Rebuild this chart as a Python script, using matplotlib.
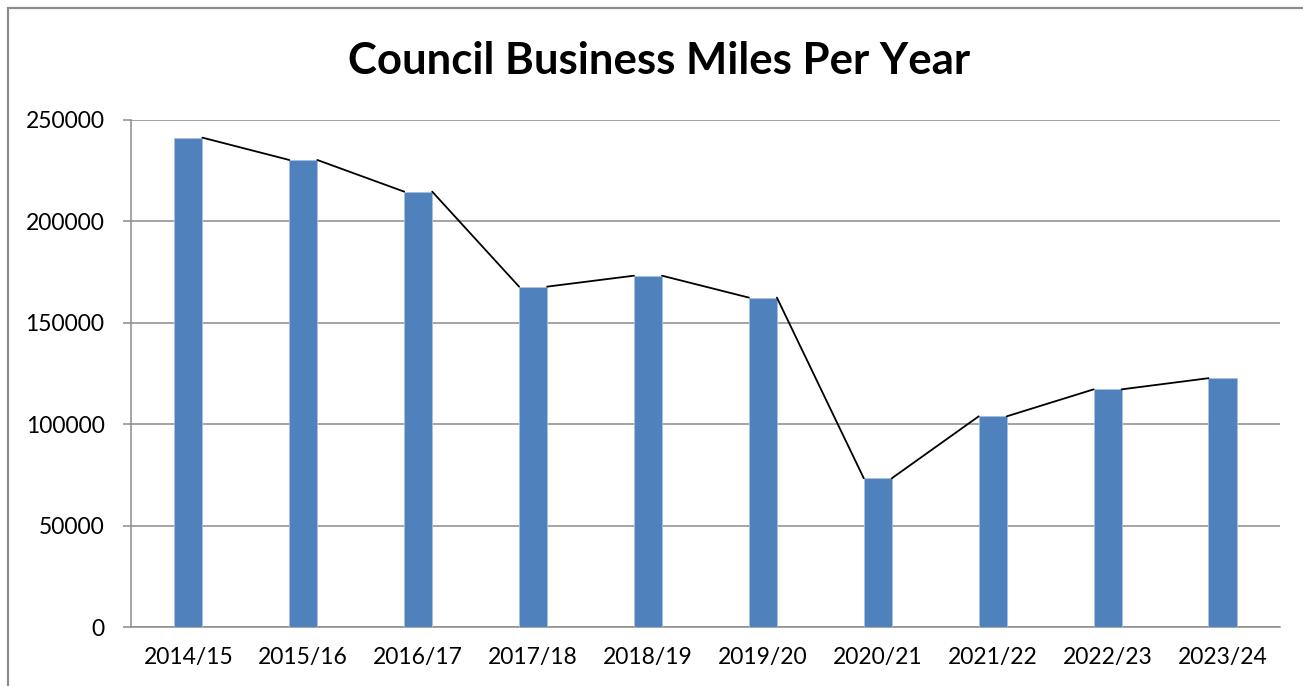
import numpy as np
import matplotlib
matplotlib.use("Agg")
import matplotlib.pyplot as plt
from matplotlib.patches import Rectangle

plt.rcParams['font.family'] = ['Lato', 'DejaVu Sans']

# values
years = ["2014/15", "2015/16", "2016/17", "2017/18", "2018/19",
         "2019/20", "2020/21", "2021/22", "2022/23", "2023/24"]
miles = [241300, 230300, 214700, 167900, 173300,
         162500, 73500, 104000, 117300, 122800]
yticks = [0, 50000, 100000, 150000, 200000, 250000]

BAR_BLUE = '#4f81bd'
GRID_GRAY = '#8c8c8c'
BAR_W = 0.244

fig = plt.figure(figsize=(13.03, 6.86), dpi=100)
ax = fig.add_axes([0.1005, 0.0853, 0.8818, 0.7398])

x = np.arange(len(years))
ax.bar(x, miles, width=BAR_W, color=BAR_BLUE, edgecolor='#a9c1df',
       linewidth=0.6, zorder=3)

# connector from the top-right corner of each bar to the top-left of the next
for i in range(len(miles) - 1):
    ax.plot([x[i] + BAR_W / 2, x[i + 1] - BAR_W / 2], [miles[i], miles[i + 1]],
            color='black', lw=1.3, zorder=4, solid_capstyle='round')

ax.set_xlim(-0.5, len(years) - 0.5)
ax.set_ylim(0, 250000)
ax.set_xticks(x)
ax.set_xticklabels(years)
ax.set_yticks(yticks)
ax.set_yticklabels([str(v) for v in yticks])
ax.tick_params(axis='x', length=0, pad=14, labelsize=16.5)
ax.tick_params(axis='y', length=6, width=1.1, color=GRID_GRAY, pad=13, labelsize=16.5)
ax.grid(axis='y', color=GRID_GRAY, lw=1.1, zorder=0)
ax.set_axisbelow(True)

for s in ('top', 'right'):
    ax.spines[s].set_visible(False)
for s in ('left', 'bottom'):
    ax.spines[s].set_color(GRID_GRAY)
    ax.spines[s].set_linewidth(1.1)

fig.text(0.506, 0.892, "Council Business Miles Per Year", ha='center',
         va='baseline', fontsize=31.5, fontweight='bold')

# outer chart border (runs off the right and bottom of the image)
fig.patches.append(Rectangle((8 / 1303, -0.05), 1.2, 1 - 8 / 686 + 0.05,
                             transform=fig.transFigure, fill=False,
                             edgecolor=GRID_GRAY, lw=1.6))

fig.savefig("out.png", dpi=100)
